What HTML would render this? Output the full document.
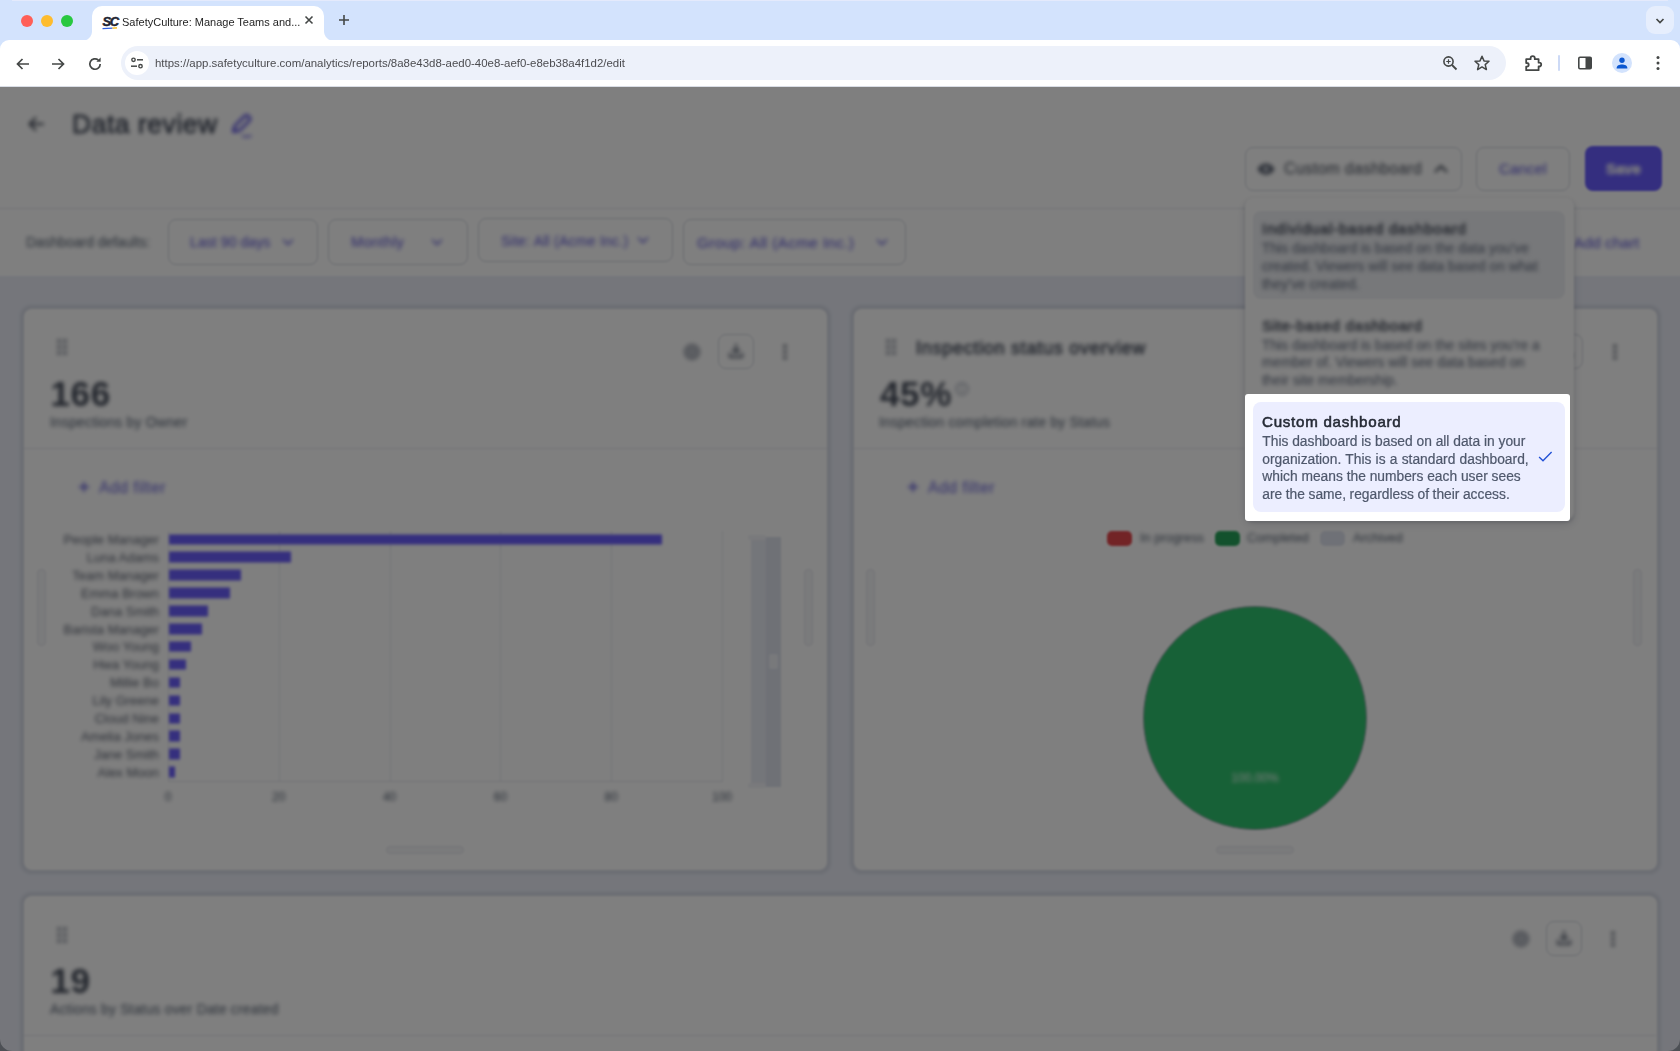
<!DOCTYPE html>
<html><head><meta charset="utf-8">
<style>
*{box-sizing:border-box;margin:0;padding:0}
html,body{width:1680px;height:1051px;overflow:hidden;background:#d3e3fd;font-family:"Liberation Sans",sans-serif}
.abs{position:absolute}
#tabstrip{position:absolute;left:0;top:0;width:1680px;height:40px;background:#d3e3fd}
.tl{position:absolute;top:15px;width:12px;height:12px;border-radius:50%}
#tab{position:absolute;left:92px;top:6px;width:232px;height:35px;background:#fff;border-radius:10px 10px 0 0}
#tab:before,#tab:after{content:"";position:absolute;bottom:0;width:10px;height:10px}
#tab:before{left:-10px;background:radial-gradient(circle at 0 0,transparent 9.5px,#fff 10.5px)}
#tab:after{right:-10px;background:radial-gradient(circle at 100% 0,transparent 9.5px,#fff 10.5px)}
#tabtitle{position:absolute;left:30px;top:10px;font-size:11px;color:#1f1f1f;white-space:nowrap;will-change:transform}
#toolbar{position:absolute;left:0;top:40px;width:1680px;height:47px;background:#fff;border-bottom:1px solid #d9dde5;border-radius:9px 9px 0 0}
#omni{position:absolute;left:121px;top:6px;width:1385px;height:34px;border-radius:17px;background:#edf1fa}
#url{position:absolute;left:34px;top:11px;font-size:11.45px;color:#4c4c50;white-space:nowrap;will-change:transform}
#pageclip{position:absolute;left:0;top:87px;width:1680px;height:964px;overflow:hidden;background:#fff}
#page{position:absolute;left:-20px;top:-20px;width:1720px;height:1010px;background:#fff}
#pg{position:absolute;left:20px;top:-67px;width:1680px;height:1100px;color:#1f2533}
#dim{position:absolute;left:0;top:87px;width:1680px;height:964px;background:rgba(0,0,0,0.5)}

.t{position:absolute;white-space:nowrap;line-height:1}
.btn{position:absolute;border:1px solid #d4d8e0;border-radius:8px;background:#fff}
.pur{color:#5a53d6}
.sec{color:#545f70}
.card{position:absolute;background:#fff;border-radius:8px;box-shadow:0 0 2.5px 3.5px rgba(50,60,90,.095)}
.lbl{position:absolute;white-space:nowrap;font-size:13px;color:#5d6371;line-height:1;text-align:right;width:120px}
.bar{position:absolute;height:10.5px;background:#6a5efc;transform:translateY(-.5px);filter:blur(1px)}
.grid{position:absolute;width:1px;background:#e9ebf0}
.ax{position:absolute;font-size:12px;color:#545f70;width:40px;text-align:center;line-height:1}
.hdl{position:absolute;background:#f5f6f8;border:1.5px solid #e6e8ed;border-radius:4px}
.dd-t{position:absolute;white-space:nowrap;font-weight:400;font-size:15.15px;color:#1f2533;line-height:1;letter-spacing:.62px;-webkit-text-stroke-width:.55px}
.dt .dd-d{color:#727a8b;-webkit-text-stroke-color:#727a8b}
.dd-d{position:absolute;white-space:nowrap;font-size:13.8px;color:#4f586c;line-height:1;-webkit-text-stroke:.2px #4f586c}
.ly{position:absolute;left:0;top:0;width:1680px;height:1100px}.bs,.ds{filter:blur(var(--sb))}.bt,.dt{filter:blur(var(--tb))}#pg{--sb:0.9px;--tb:1.9px}
</style></head>
<body>
<div id="tabstrip">
  <div class="tl" style="left:21px;background:#ff5f57"></div>
  <div class="tl" style="left:41px;background:#febc2e"></div>
  <div class="tl" style="left:61px;background:#28c840"></div>
  <div id="tab">
    <svg class="abs" style="left:10px;top:8px" width="18" height="16" viewBox="0 0 18 16"><text x="0.5" y="11.5" font-family="Liberation Sans" font-weight="bold" font-style="italic" font-size="13" letter-spacing="-1.3" fill="#1f2533" stroke="#1f2533" stroke-width=".5">SC</text><path d="M0.5 14.6 L10.5 14.2" stroke="#2f5fe0" stroke-width="1.2"/><path d="M10.5 14.2 L15 13.8" stroke="#f5b400" stroke-width="1.2"/></svg>
    <div id="tabtitle">SafetyCulture: Manage Teams and...</div>
    <svg class="abs" style="left:211px;top:8px" width="12" height="12" viewBox="0 0 12 12"><path d="M2.5 2.5 L9.5 9.5 M9.5 2.5 L2.5 9.5" stroke="#444746" stroke-width="1.6" fill="none"/></svg>
  </div>
  <svg class="abs" style="left:337px;top:13px" width="14" height="14" viewBox="0 0 14 14"><path d="M7 2 V12 M2 7 H12" stroke="#444746" stroke-width="1.6" fill="none"/></svg>
  <div class="abs" style="left:1646px;top:6px;width:28px;height:28px;border-radius:9px;background:#e6eefd"></div>
  <svg class="abs" style="left:1653px;top:13.5px" width="14" height="14" viewBox="0 0 14 14"><path d="M3.5 5 L7 8.5 L10.5 5" stroke="#444746" stroke-width="1.7" fill="none"/></svg>
</div>
<div id="toolbar">
  <svg class="abs" style="left:14px;top:14.5px" width="18" height="18" viewBox="0 0 18 18"><path d="M15 9 H4 M8.5 4 L3.5 9 L8.5 14" stroke="#444746" stroke-width="1.7" fill="none"/></svg>
  <svg class="abs" style="left:49px;top:14.5px" width="18" height="18" viewBox="0 0 18 18"><path d="M3 9 H14 M9.5 4 L14.5 9 L9.5 14" stroke="#444746" stroke-width="1.7" fill="none"/></svg>
  <svg class="abs" style="left:85.5px;top:14.5px" width="18" height="18" viewBox="0 0 18 18"><path d="M14.2 9 A5.2 5.2 0 1 1 12.4 5.1" stroke="#444746" stroke-width="1.7" fill="none"/><path d="M14.6 2.6 V6.8 H10.4 Z" fill="#444746"/></svg>
  <div id="omni">
    <div class="abs" style="left:4px;top:5px;width:24px;height:24px;border-radius:50%;background:#fff"></div>
    <svg class="abs" style="left:9px;top:10px" width="14" height="14" viewBox="0 0 14 14"><circle cx="3.5" cy="3.8" r="1.7" stroke="#444746" stroke-width="1.4" fill="none"/><path d="M7 3.8 H13" stroke="#444746" stroke-width="1.5"/><circle cx="10.5" cy="10.2" r="1.7" stroke="#444746" stroke-width="1.4" fill="none"/><path d="M1 10.2 H7" stroke="#444746" stroke-width="1.5"/></svg>
    <div id="url">https://app.safetyculture.com/analytics/reports/8a8e43d8-aed0-40e8-aef0-e8eb38a4f1d2/edit</div>
    <svg class="abs" style="left:1320px;top:8px" width="18" height="18" viewBox="0 0 18 18"><circle cx="7.5" cy="7.5" r="4.6" stroke="#444746" stroke-width="1.6" fill="none"/><path d="M11 11 L15.5 15.5" stroke="#444746" stroke-width="1.8"/><path d="M7.5 5.3 V9.7 M5.3 7.5 H9.7" stroke="#444746" stroke-width="1.2"/></svg>
    <svg class="abs" style="left:1352px;top:8px" width="18" height="18" viewBox="0 0 18 18"><path d="M9 2.2 L11 6.9 L16 7.3 L12.2 10.6 L13.4 15.6 L9 12.9 L4.6 15.6 L5.8 10.6 L2 7.3 L7 6.9 Z" stroke="#444746" stroke-width="1.5" fill="none" stroke-linejoin="round"/></svg>
  </div>
  <svg class="abs" style="left:1522px;top:12px" width="22" height="22" viewBox="0 0 22 22"><path d="M4.2 7.2 H8.6 V6.3 A2.1 2.1 0 0 1 12.8 6.3 V7.2 H16.6 V10.7 H17.3 A1.9 1.9 0 0 1 17.3 14.5 H16.6 V18.2 H4.2 V14.6 H4.9 A1.8 1.8 0 0 0 4.9 11 H4.2 Z" stroke="#444746" stroke-width="1.8" fill="none" stroke-linejoin="round"/></svg>
  <div class="abs" style="left:1558px;top:15px;width:2px;height:16px;border-radius:1px;background:#cddaf6"></div>
  <svg class="abs" style="left:1576px;top:14px" width="18" height="18" viewBox="0 0 18 18"><rect x="2.8" y="3.3" width="12.4" height="11.4" rx="1.2" stroke="#444746" stroke-width="1.6" fill="none"/><rect x="9.5" y="3.3" width="5.7" height="11.4" fill="#444746"/></svg>
  <div class="abs" style="left:1612px;top:13px;width:20px;height:20px;border-radius:50%;background:#d3e3fd"></div>
  <svg class="abs" style="left:1614px;top:15px" width="16" height="16" viewBox="0 0 16 16"><circle cx="8" cy="5.2" r="2.7" fill="#0b57d0"/><path d="M2.6 13.4 C2.6 10.6 5.4 9.6 8 9.6 C10.6 9.6 13.4 10.6 13.4 13.4 Z" fill="#0b57d0"/></svg>
  <svg class="abs" style="left:1650px;top:14px" width="16" height="18" viewBox="0 0 16 18"><circle cx="8" cy="3.6" r="1.5" fill="#444746"/><circle cx="8" cy="9" r="1.5" fill="#444746"/><circle cx="8" cy="14.4" r="1.5" fill="#444746"/></svg>
</div>
<div id="pageclip"><div id="page"><div id="pg">
<div class="ly bs">
<div class="abs" style="left:-20px;top:60px;width:1720px;height:215px;background:#fff"></div>
<div class="abs" style="left:-20px;top:208px;width:1720px;height:1px;background:#e3e6ee"></div>
<div class="abs" style="left:-20px;top:275.5px;width:1720px;height:820px;background:#eaedf7"></div>
<div class="btn" style="left:1245px;top:146.5px;width:217px;height:44px"></div>
<div class="btn" style="left:1476px;top:146.5px;width:94px;height:44px"></div>
<div class="abs" style="left:1584.5px;top:146px;width:77px;height:45px;border-radius:8px;background:#685cff"></div>
<div class="btn" style="left:168px;top:219px;width:150px;height:46px"></div>
<div class="btn" style="left:328px;top:219px;width:140px;height:46px"></div>
<div class="btn" style="left:478px;top:218px;width:195px;height:44px"></div>
<div class="btn" style="left:683px;top:219px;width:223px;height:46px"></div>
<div class="card" style="left:24px;top:309px;width:803px;height:561px"></div>
<div class="card" style="left:854px;top:309px;width:802.5px;height:561px"></div>
<div class="card" style="left:24px;top:896px;width:1632.5px;height:300px"></div>
<div class="abs" style="left:24px;top:448px;width:803px;height:1px;background:#e6e8ee"></div>
<div class="abs" style="left:854px;top:448px;width:803px;height:1px;background:#e6e8ee"></div>
<div class="abs" style="left:24px;top:1035px;width:1632px;height:1px;background:#e6e8ee"></div>
<div class="btn" style="left:718px;top:334px;width:36px;height:35px"></div>
<div class="grid" style="left:168.0px;top:531px;height:251px"></div>
<div class="grid" style="left:278.8px;top:531px;height:251px"></div>
<div class="grid" style="left:389.6px;top:531px;height:251px"></div>
<div class="grid" style="left:500.4px;top:531px;height:251px"></div>
<div class="grid" style="left:611.2px;top:531px;height:251px"></div>
<div class="grid" style="left:722.0px;top:531px;height:251px"></div>
<div class="bar" style="left:169px;top:534.5px;width:493.1px"></div>
<div class="bar" style="left:169px;top:552.4px;width:121.9px"></div>
<div class="bar" style="left:169px;top:570.3px;width:72.0px"></div>
<div class="bar" style="left:169px;top:588.2px;width:60.9px"></div>
<div class="bar" style="left:169px;top:606.1px;width:38.8px"></div>
<div class="bar" style="left:169px;top:624.0px;width:33.2px"></div>
<div class="bar" style="left:169px;top:641.9px;width:22.2px"></div>
<div class="bar" style="left:169px;top:659.8px;width:16.6px"></div>
<div class="bar" style="left:169px;top:677.7px;width:11.1px"></div>
<div class="bar" style="left:169px;top:695.6px;width:11.1px"></div>
<div class="bar" style="left:169px;top:713.5px;width:11.1px"></div>
<div class="bar" style="left:169px;top:731.4px;width:11.1px"></div>
<div class="bar" style="left:169px;top:749.3px;width:11.1px"></div>
<div class="bar" style="left:169px;top:767.2px;width:5.5px"></div>
<div class="abs" style="left:168px;top:781px;width:555px;height:1px;background:#e4e6ec"></div>
<div class="abs" style="left:751px;top:537px;width:15px;height:250px;background:#e9ecf4"></div>
<div class="abs" style="left:766px;top:537px;width:15px;height:250px;background:#dee2ed"></div>
<div class="abs" style="left:748px;top:535px;width:18px;height:5px;border-radius:2px;background:#f3f4f8"></div>
<div class="abs" style="left:748px;top:783px;width:18px;height:5px;border-radius:2px;background:#f3f4f8"></div>
<div class="abs" style="left:769px;top:654px;width:9px;height:15px;border-radius:2px;background:#f0f2f7"></div>
<div class="hdl" style="left:37px;top:569px;width:9px;height:77px"></div>
<div class="hdl" style="left:804px;top:569px;width:9px;height:77px"></div>
<div class="hdl" style="left:386px;top:846px;width:78px;height:8px"></div>
<div class="btn" style="left:1547px;top:334px;width:36px;height:35px"></div>
<div class="abs" style="left:1107px;top:531px;width:25px;height:15px;border-radius:5px;background:#e5484d"></div>
<div class="abs" style="left:1215px;top:531px;width:25px;height:15px;border-radius:5px;background:#27a35a"></div>
<div class="abs" style="left:1320px;top:531px;width:25px;height:15px;border-radius:5px;background:#dfe3ee"></div>
<div class="abs" style="left:1143px;top:606px;width:224px;height:224px;border-radius:50%;background:#2fc26e;border:1px solid #9aa0ac"></div>
<div class="hdl" style="left:866px;top:569px;width:9px;height:77px"></div>
<div class="hdl" style="left:1633px;top:569px;width:9px;height:77px"></div>
<div class="hdl" style="left:1216px;top:846px;width:78px;height:8px"></div>
<div class="btn" style="left:1546px;top:921px;width:36px;height:35px"></div>
</div>
<div class="ly bt">
<svg class="abs" height="22" style="left:25px;top:113px" viewbox="0 0 22 22" width="22"><path d="M18 11 H5 M10.5 5 L4.5 11 L10.5 17" fill="none" stroke="#3f4654" stroke-linecap="round" stroke-linejoin="round" stroke-width="2"></path></svg>
<div class="t" style="left:72px;top:111px;font-size:26.4px;font-weight:400;-webkit-text-stroke:.8px #4a5160;letter-spacing:.58px;color:#4a5160">Data review</div>
<svg class="abs" height="26" style="left:229px;top:113px" viewbox="0 0 24 26" width="24"><path d="M4.2 18.6 L5.6 13.2 L15.8 3 C16.8 2 18.2 2 19.2 3 L20.4 4.2 C21.4 5.2 21.4 6.6 20.4 7.6 L10.2 17.8 Z" fill="none" stroke="#5a50e0" stroke-linejoin="round" stroke-width="2.6"></path><path d="M5.2 14.5 L9 18.2 L4.2 19 Z" fill="#5a50e0"></path><path d="M13 23.5 C15 22.5 16.5 24.5 18.5 23.5 S21 22.8 22.5 23.5" fill="none" stroke="#5a50e0" stroke-width="1.6"></path></svg>
<svg class="abs" height="18" style="left:1257px;top:160px" viewbox="0 0 18 18" width="18"><path d="M0.5 9 C3.5 1.5 14.5 1.5 17.5 9 C14.5 16.5 3.5 16.5 0.5 9 Z" fill="#5d6473"></path><circle cx="9" cy="9" fill="#d5d9e1" r="2.6"></circle></svg>
<div class="t" style="left:1284px;top:161px;font-size:15.6px;letter-spacing:.4px;color:#454c5a">Custom dashboard</div>
<svg class="abs" height="18" style="left:1432px;top:160px" viewbox="0 0 18 18" width="18"><path d="M3.5 11.5 L9 6 L14.5 11.5" fill="none" stroke="#3f4654" stroke-linecap="round" stroke-linejoin="round" stroke-width="2"></path></svg>
<div class="t pur" style="left:1499px;top:161px;font-size:15.3px">Cancel</div>
<div class="t" style="left:1606px;top:161px;font-size:15px;font-weight:700;letter-spacing:-.1px;-webkit-text-stroke:.5px #fff;color:#fff">Save</div>
<div class="t sec" style="left:26px;top:235.5px;font-size:13.9px">Dashboard defaults:</div>
<div class="t pur" style="left:190px;top:235px;font-size:14.2px">Last 90 days</div>
<svg class="abs" height="16" style="left:280px;top:234px" viewbox="0 0 16 16" width="16"><path d="M3.5 6 L8 10.5 L12.5 6" fill="none" stroke="#5d57d4" stroke-linecap="round" stroke-linejoin="round" stroke-width="1.6"></path></svg>
<div class="t pur" style="left:351px;top:235px;font-size:14.6px;letter-spacing:.3px">Monthly</div>
<svg class="abs" height="16" style="left:429px;top:234px" viewbox="0 0 16 16" width="16"><path d="M3.5 6 L8 10.5 L12.5 6" fill="none" stroke="#5d57d4" stroke-linecap="round" stroke-linejoin="round" stroke-width="1.6"></path></svg>
<div class="t pur" style="left:501px;top:233.5px;font-size:14px;letter-spacing:.25px">Site: All (Acme Inc.)</div>
<svg class="abs" height="16" style="left:635px;top:232px" viewbox="0 0 16 16" width="16"><path d="M3.5 6 L8 10.5 L12.5 6" fill="none" stroke="#5d57d4" stroke-linecap="round" stroke-linejoin="round" stroke-width="1.6"></path></svg>
<div class="t pur" style="left:697px;top:234.5px;font-size:15.4px;letter-spacing:.3px">Group: All (Acme Inc.)</div>
<svg class="abs" height="16" style="left:874px;top:234px" viewbox="0 0 16 16" width="16"><path d="M3.5 6 L8 10.5 L12.5 6" fill="none" stroke="#5d57d4" stroke-linecap="round" stroke-linejoin="round" stroke-width="1.6"></path></svg>
<div class="t pur" style="left:1561px;top:235px;font-size:15.4px">+ Add chart</div>
<svg class="abs" height="18" style="left:56px;top:338px" viewbox="0 0 12 18" width="12"><g fill="#626979"><circle cx="3" cy="3" r="1.75"></circle><circle cx="9" cy="3" r="1.75"></circle><circle cx="3" cy="9" r="1.75"></circle><circle cx="9" cy="9" r="1.75"></circle><circle cx="3" cy="15" r="1.75"></circle><circle cx="9" cy="15" r="1.75"></circle></g></svg>
<div class="t" style="left:50.5px;top:375.9px;font-size:35px;font-weight:700;letter-spacing:.6px;color:#454c5a">166</div>
<div class="t sec" style="left:50px;top:415.5px;font-size:13.9px;letter-spacing:.2px">Inspections by Owner</div>
<svg class="abs" height="22" style="left:681px;top:341px" viewbox="0 0 22 22" width="22"><circle cx="11" cy="11" fill="#b9bdc5" r="7" stroke="#aeb2bb" stroke-width="3"></circle></svg>
<svg class="abs" height="18" style="left:727px;top:342px" viewbox="0 0 18 18" width="18"><path d="M9 2.5 V10.5 M5.8 7.6 L9 10.8 L12.2 7.6 M2.8 11.5 V15 H15.2 V11.5" fill="none" stroke="#5a6272" stroke-linecap="round" stroke-linejoin="round" stroke-width="1.8"></path></svg>
<svg class="abs" height="20" style="left:780.7px;top:342px" viewbox="0 0 8 20" width="8"><circle cx="4" cy="4.3" fill="#4a5160" r="1.7"></circle><circle cx="4" cy="10" fill="#4a5160" r="1.7"></circle><circle cx="4" cy="15.7" fill="#4a5160" r="1.7"></circle></svg>
<svg class="abs" height="12" style="left:78px;top:481px" viewbox="0 0 12 12" width="12"><path d="M6 1 V11 M1 6 H11" fill="none" stroke="#6761d8" stroke-width="1.9"></path></svg>
<div class="t pur" style="left:99px;top:479.5px;font-size:15.8px;letter-spacing:.45px;color:#6761d8">Add filter</div>
<div class="ax" style="left:148.0px;top:791px">0</div>
<div class="ax" style="left:258.8px;top:791px">20</div>
<div class="ax" style="left:369.6px;top:791px">40</div>
<div class="ax" style="left:480.4px;top:791px">60</div>
<div class="ax" style="left:591.2px;top:791px">80</div>
<div class="ax" style="left:702.0px;top:791px">100</div>
<div class="lbl" style="left:39px;top:533.0px">People Manager</div>
<div class="lbl" style="left:39px;top:550.9px">Luna Adams</div>
<div class="lbl" style="left:39px;top:568.8px">Team Manager</div>
<div class="lbl" style="left:39px;top:586.7px">Emma Brown</div>
<div class="lbl" style="left:39px;top:604.6px">Dana Smith</div>
<div class="lbl" style="left:39px;top:622.5px">Barista Manager</div>
<div class="lbl" style="left:39px;top:640.4px">Woo Young</div>
<div class="lbl" style="left:39px;top:658.3px">Hwa Young</div>
<div class="lbl" style="left:39px;top:676.2px">Millie Bo</div>
<div class="lbl" style="left:39px;top:694.1px">Lily Greene</div>
<div class="lbl" style="left:39px;top:712.0px">Cloud Nine</div>
<div class="lbl" style="left:39px;top:729.9px">Amelia Jones</div>
<div class="lbl" style="left:39px;top:747.8px">Jane Smith</div>
<div class="lbl" style="left:39px;top:765.7px">Alex Moon</div>
<svg class="abs" height="18" style="left:885px;top:338px" viewbox="0 0 12 18" width="12"><g fill="#626979"><circle cx="3" cy="3" r="1.75"></circle><circle cx="9" cy="3" r="1.75"></circle><circle cx="3" cy="9" r="1.75"></circle><circle cx="9" cy="9" r="1.75"></circle><circle cx="3" cy="15" r="1.75"></circle><circle cx="9" cy="15" r="1.75"></circle></g></svg>
<div class="t" style="left:916px;top:339px;font-size:18px;font-weight:400;-webkit-text-stroke:.6px #4a5160;letter-spacing:.73px;color:#4a5160">Inspection status overview</div>
<div class="t" style="left:880px;top:375.9px;font-size:35px;font-weight:700;letter-spacing:.6px;color:#454c5a">45%</div>
<svg class="abs" height="14" style="left:955px;top:382px" viewbox="0 0 14 14" width="14"><circle cx="7" cy="7" fill="none" r="5.8" stroke="#8b93a3" stroke-width="1.2"></circle><path d="M7 6.2 V10" stroke="#8b93a3" stroke-width="1.3"></path><circle cx="7" cy="4.3" fill="#8b93a3" r=".8"></circle></svg>
<div class="t sec" style="left:879px;top:415.5px;font-size:13.9px;letter-spacing:.2px">Inspection completion rate by Status</div>
<svg class="abs" height="18" style="left:1556px;top:342px" viewbox="0 0 18 18" width="18"><path d="M9 2.5 V10.5 M5.8 7.6 L9 10.8 L12.2 7.6 M2.8 11.5 V15 H15.2 V11.5" fill="none" stroke="#5a6272" stroke-linecap="round" stroke-linejoin="round" stroke-width="1.8"></path></svg>
<svg class="abs" height="20" style="left:1610.7px;top:342px" viewbox="0 0 8 20" width="8"><circle cx="4" cy="4.3" fill="#4a5160" r="1.7"></circle><circle cx="4" cy="10" fill="#4a5160" r="1.7"></circle><circle cx="4" cy="15.7" fill="#4a5160" r="1.7"></circle></svg>
<svg class="abs" height="12" style="left:907px;top:481px" viewbox="0 0 12 12" width="12"><path d="M6 1 V11 M1 6 H11" fill="none" stroke="#6761d8" stroke-width="1.9"></path></svg>
<div class="t pur" style="left:928px;top:479.5px;font-size:15.8px;letter-spacing:.45px;color:#6761d8">Add filter</div>
<div class="t" style="left:1140px;top:532px;font-size:12.8px;color:#545f70">In progress</div>
<div class="t" style="left:1247px;top:532px;font-size:12.8px;color:#545f70">Completed</div>
<div class="t" style="left:1353px;top:532px;font-size:12.8px;color:#545f70">Archived</div>
<div class="t" style="left:1225px;top:772px;width:60px;text-align:center;font-size:12px;color:#fff">100.00%</div>
<svg class="abs" height="18" style="left:56px;top:926px" viewbox="0 0 12 18" width="12"><g fill="#626979"><circle cx="3" cy="3" r="1.75"></circle><circle cx="9" cy="3" r="1.75"></circle><circle cx="3" cy="9" r="1.75"></circle><circle cx="9" cy="9" r="1.75"></circle><circle cx="3" cy="15" r="1.75"></circle><circle cx="9" cy="15" r="1.75"></circle></g></svg>
<div class="t" style="left:50.5px;top:962.9px;font-size:35px;font-weight:700;letter-spacing:.6px;color:#454c5a">19</div>
<div class="t sec" style="left:50px;top:1002.5px;font-size:13.9px;letter-spacing:.2px">Actions by Status over Date created</div>
<svg class="abs" height="22" style="left:1510px;top:928px" viewbox="0 0 22 22" width="22"><circle cx="11" cy="11" fill="#b9bdc5" r="7" stroke="#aeb2bb" stroke-width="3"></circle></svg>
<svg class="abs" height="18" style="left:1555px;top:929px" viewbox="0 0 18 18" width="18"><path d="M9 2.5 V10.5 M5.8 7.6 L9 10.8 L12.2 7.6 M2.8 11.5 V15 H15.2 V11.5" fill="none" stroke="#5a6272" stroke-linecap="round" stroke-linejoin="round" stroke-width="1.8"></path></svg>
<svg class="abs" height="20" style="left:1608.7px;top:929px" viewbox="0 0 8 20" width="8"><circle cx="4" cy="4.3" fill="#4a5160" r="1.7"></circle><circle cx="4" cy="10" fill="#4a5160" r="1.7"></circle><circle cx="4" cy="15.7" fill="#4a5160" r="1.7"></circle></svg>
</div>
<div class="ly ds">
<div class="abs" style="left:1245px;top:198px;width:328.5px;height:322px;border-radius:8px;background:#fff;box-shadow:0 4px 10px rgba(20,30,60,.15),0 1.5px 3px rgba(20,30,60,.2)"></div>
<div class="abs" style="left:1253px;top:210.5px;width:312px;height:88px;border-radius:8px;background:#eef0f4"></div>
<div class="abs" style="left:1253px;top:306px;width:312px;height:92px;border-radius:8px;background:#fff"></div>
</div>
<div class="ly dt">
<div class="dd-t" style="left:1262px;top:220.6px;color:#4c5260;letter-spacing:.72px">Individual-based dashboard</div>
<div class="dd-d" style="left:1262px;top:241.9px">This dashboard is based on the data you’ve</div>
<div class="dd-d" style="left:1262px;top:259.7px">created. Viewers will see data based on what</div>
<div class="dd-d" style="left:1262px;top:277.5px">they’ve created.</div>
<div class="dd-t" style="left:1262px;top:317.5px;color:#4c5260">Site-based dashboard</div>
<div class="dd-d" style="left:1262px;top:338.5px">This dashboard is based on the sites you’re a</div>
<div class="dd-d" style="left:1262px;top:356.3px">member of. Viewers will see data based on</div>
<div class="dd-d" style="left:1262px;top:374.1px">their site membership.</div>
</div>
</div></div></div>
<div id="dim"></div>
<svg class="abs" style="left:0;top:1039px" width="12" height="12" viewBox="0 0 12 12"><path d="M0 0 A12 12 0 0 0 12 12 H0 Z" fill="#4d5055"/></svg>
<svg class="abs" style="left:1668px;top:1039px" width="12" height="12" viewBox="0 0 12 12"><path d="M12 0 A12 12 0 0 1 0 12 H12 Z" fill="#4d5055"/></svg>
<div class="abs" style="left:12px;top:0;width:1656px;height:1px;background:#e4eafc"></div>
<div class="abs" style="left:1245px;top:394px;width:325px;height:126.8px;border-radius:3px;background:#fff;overflow:hidden;will-change:transform">
<div class="abs" style="left:8px;top:8px;width:312px;height:110px;border-radius:8px;background:#eceeff"></div>
<div class="dd-t" style="left:17px;top:20.3px;font-weight:400;-webkit-text-stroke:.55px #262b36;letter-spacing:.72px;color:#262b36">Custom dashboard</div>
<div class="dd-d" style="left:17.3px;top:40.7px;word-spacing:0px">This dashboard is based on all data in your</div>
<div class="dd-d" style="left:17.3px;top:58.7px;word-spacing:.4px">organization. This is a standard dashboard,</div>
<div class="dd-d" style="left:17.3px;top:75.7px;word-spacing:0px">which means the numbers each user sees</div>
<div class="dd-d" style="left:17.3px;top:93.7px;word-spacing:-.3px">are the same, regardless of their access.</div>
<svg class="abs" style="left:290px;top:54px" width="20" height="16" viewBox="0 0 20 16"><path d="M4.1 9 L8 12.7 L16.6 4.1" stroke="#2251d6" stroke-width="1.4" fill="none"/></svg>
</div>
</body></html>
